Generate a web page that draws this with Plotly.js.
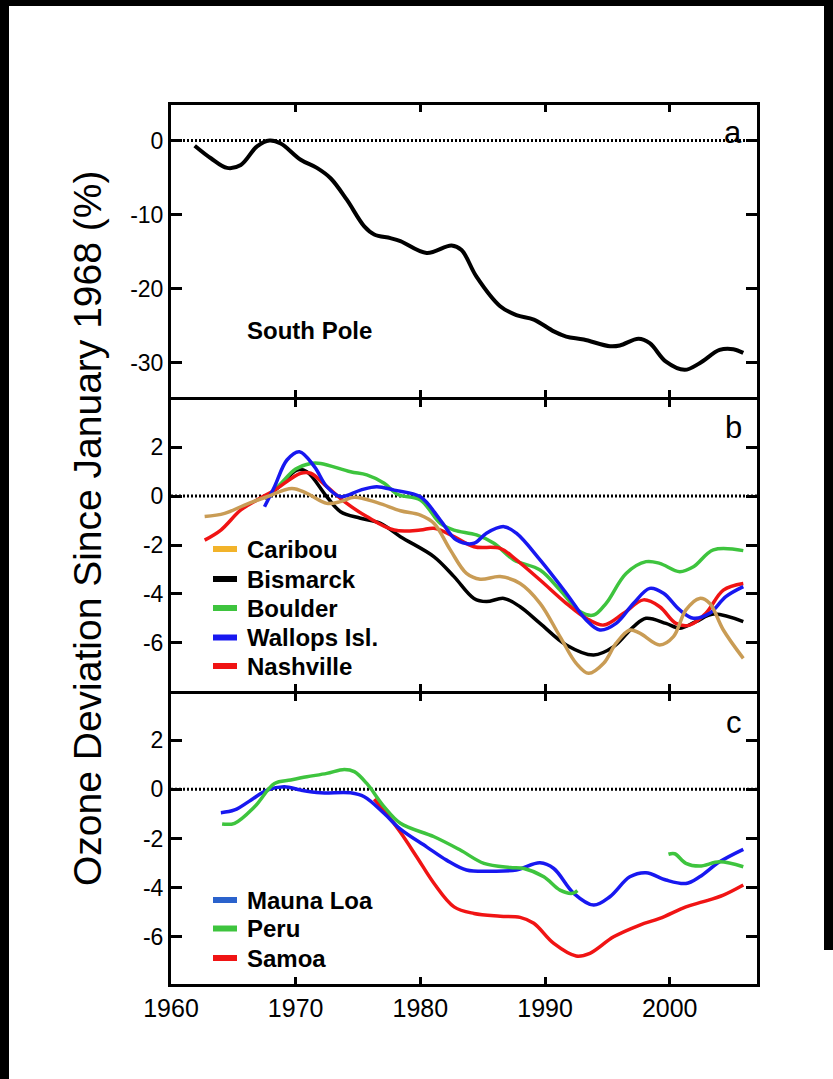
<!DOCTYPE html>
<html>
<head>
<meta charset="utf-8">
<script src="https://cdn.plot.ly/plotly-3.0.1.min.js"></script>
<style>
  html, body { margin: 0; padding: 0; background: #ffffff; }
  #wrap { position: relative; width: 833px; height: 1079px; overflow: hidden; }
  #chart { position: absolute; left: 0; top: 0; width: 833px; height: 1079px; }
  .edge { position: absolute; background: #000000; }
</style>
</head>
<body>
<div id="wrap">
  <div id="chart"></div>
  <div class="edge" style="left:0;top:0;width:833px;height:6px;"></div>
  <div class="edge" style="left:0;top:0;width:9px;height:1079px;"></div>
  <div class="edge" style="left:824px;top:0;width:9px;height:950px;"></div>
</div>
<script>
// ---- Panel a: South Pole ----
const spYears  = [1961.9, 1963.2, 1964.5, 1965.6, 1966.9, 1967.9, 1968.8, 1970.4, 1971.7, 1972.8,
                  1974.1, 1975.5, 1976.3, 1977.6, 1978.4, 1980.5, 1982.5, 1983.3, 1984.5, 1986.4,
                  1987.7, 1989.1, 1990.7, 1991.7, 1993.1, 1995.2, 1996.0, 1997.5, 1998.4, 1999.7,
                  2001.2, 2002.4, 2004.0, 2005.1, 2005.9];
const spValues = [-0.7, -2.4, -3.7, -3.3, -0.8, 0.0, -0.4, -2.6, -3.7, -5.1,
                  -8.0, -11.6, -12.7, -13.2, -13.6, -15.2, -14.2, -14.8, -18.4, -22.4,
                  -23.6, -24.2, -25.8, -26.5, -26.9, -27.8, -27.7, -26.8, -27.4, -29.9,
                  -31.0, -30.1, -28.3, -28.2, -28.7];

// ---- Panel b: northern mid-latitude stations ----
const caribouYears  = [1962.7, 1964.3, 1965.9, 1967.7, 1969.7, 1970.9, 1972.5, 1973.6, 1974.7, 1976.6,
                       1978.4, 1980.0, 1981.1, 1982.4, 1983.7, 1984.8, 1986.4, 1988.0, 1989.6, 1991.2,
                       1992.5, 1993.5, 1994.7, 1995.7, 1996.8, 1997.6, 1999.2, 2000.3, 2001.3, 2002.4,
                       2003.2, 2004.3, 2005.9];
const caribouValues = [-0.84, -0.71, -0.37, -0.03, 0.31, 0.11, -0.30, -0.23, -0.05, -0.28,
                       -0.60, -0.78, -1.12, -2.20, -3.16, -3.40, -3.29, -3.57, -4.38, -5.74,
                       -6.83, -7.24, -6.83, -6.01, -5.47, -5.60, -6.08, -5.74, -4.65, -4.18,
                       -4.38, -5.47, -6.63];

const bismarckYears  = [1967.5, 1968.6, 1970.1, 1970.9, 1972.5, 1973.6, 1975.2, 1976.8, 1978.4, 1981.1,
                        1982.7, 1984.3, 1985.3, 1986.7, 1988.0, 1989.6, 1991.7, 1993.9, 1995.5, 1997.1,
                        1998.1, 1999.7, 2000.8, 2002.1, 2003.5, 2005.9];
const bismarckValues = [-0.10, 0.35, 1.06, 0.99, -0.03, -0.64, -0.91, -1.12, -1.66, -2.48,
                        -3.29, -4.18, -4.31, -4.18, -4.52, -5.20, -6.08, -6.49, -6.15, -5.33,
                        -4.99, -5.20, -5.40, -5.13, -4.82, -5.13];

const boulderYears  = [1967.6, 1968.8, 1970.0, 1971.2, 1972.0, 1974.4, 1975.7, 1977.1, 1978.2, 1980.0,
                       1981.6, 1982.7, 1984.5, 1985.9, 1987.5, 1989.6, 1991.2, 1992.8, 1993.9, 1994.9,
                       1996.5, 1998.1, 1999.2, 2000.8, 2001.9, 2003.5, 2005.9];
const boulderValues = [-0.10, 0.50, 1.10, 1.33, 1.33, 0.99, 0.86, 0.52, 0.06, -0.16,
                       -1.12, -1.39, -1.59, -1.93, -2.61, -3.02, -3.84, -4.72, -4.86, -4.38,
                       -3.16, -2.68, -2.75, -3.09, -2.89, -2.20, -2.23];

const wallopsYears  = [1967.5, 1968.3, 1969.3, 1970.3, 1971.5, 1972.5, 1973.6, 1975.2, 1976.5, 1977.9,
                       1980.0, 1981.6, 1982.9, 1984.3, 1985.3, 1986.7, 1987.7, 1989.6, 1991.7, 1993.3,
                       1994.4, 1995.7, 1997.1, 1998.4, 1999.5, 2000.8, 2001.9, 2003.2, 2004.5, 2005.9];
const wallopsValues = [-0.44, 0.38, 1.47, 1.81, 1.20, 0.38, -0.03, 0.24, 0.38, 0.24,
                       -0.03, -0.98, -1.80, -1.93, -1.52, -1.25, -1.52, -2.61, -3.97, -5.06,
                       -5.47, -5.20, -4.38, -3.77, -3.97, -4.65, -4.99, -4.79, -4.11, -3.70];

const nashvilleYears  = [1962.7, 1964.0, 1965.6, 1966.9, 1968.3, 1970.4, 1971.2, 1972.5, 1974.1, 1975.7,
                         1977.9, 1980.0, 1981.1, 1982.7, 1984.3, 1986.4, 1987.7, 1989.6, 1991.7, 1993.3,
                         1994.7, 1996.3, 1997.9, 1999.2, 2000.5, 2001.6, 2002.9, 2004.3, 2005.9];
const nashvilleValues = [-1.80, -1.39, -0.57, -0.16, 0.24, 0.93, 0.93, 0.38, -0.30, -0.84,
                         -1.39, -1.39, -1.32, -1.66, -2.07, -2.14, -2.61, -3.43, -4.38, -4.99,
                         -5.27, -4.79, -4.24, -4.52, -5.20, -5.27, -4.79, -3.84, -3.57];

// ---- Panel c: tropical stations ----
const maunaLoaYears  = [1964.0, 1965.1, 1966.4, 1967.7, 1969.1, 1970.4, 1972.0, 1974.4, 1975.5, 1977.1,
                        1978.4, 1980.5, 1982.1, 1983.7, 1985.9, 1987.7, 1989.6, 1990.7, 1992.3, 1993.9,
                        1995.2, 1996.8, 1998.1, 1999.7, 2001.3, 2002.4, 2004.0, 2005.9];
const maunaLoaValues = [-0.95, -0.84, -0.44, -0.03, 0.11, -0.03, -0.14, -0.14, -0.30, -0.98,
                        -1.62, -2.34, -2.88, -3.28, -3.33, -3.28, -2.99, -3.22, -4.23, -4.71,
                        -4.37, -3.56, -3.39, -3.69, -3.83, -3.56, -2.95, -2.44];

// Peru has a data gap in the 1990s (null breaks the line)
const peruYears  = [1964.1, 1965.1, 1966.7, 1968.3, 1969.6, 1970.9, 1972.5, 1973.9, 1974.7, 1975.7,
                    1977.1, 1978.4, 1981.1, 1983.2, 1985.1, 1987.2, 1988.3, 1989.9, 1991.2, 1992.2,
                    1992.6, 1996.0,
                    1999.9, 2000.4, 2001.3, 2002.4, 2004.0, 2005.9];
const peruValues = [-1.41, -1.38, -0.71, 0.24, 0.38, 0.51, 0.65, 0.81, 0.72, 0.24,
                    -0.71, -1.38, -1.93, -2.47, -3.01, -3.18, -3.22, -3.56, -4.10, -4.23,
                    -4.12, null,
                    -2.64, -2.62, -3.01, -3.12, -2.95, -3.15];

const samoaYears  = [1976.3, 1977.3, 1978.4, 1979.7, 1981.1, 1982.7, 1984.3, 1986.4, 1988.0, 1989.1,
                     1990.7, 1992.5, 1993.6, 1995.5, 1997.6, 1999.2, 2001.3, 2002.7, 2004.3, 2005.9];
const samoaValues = [-0.40, -1.00, -1.75, -2.74, -3.83, -4.78, -5.05, -5.16, -5.21, -5.45,
                     -6.27, -6.78, -6.67, -6.00, -5.52, -5.25, -4.78, -4.57, -4.30, -3.89];

// ---- Axis ticks and labels ----
const xTickVals   = [1960, 1970, 1980, 1990, 2000];
const xTickText   = ['1960', '1970', '1980', '1990', '2000'];
const aTickVals   = [0, -10, -20, -30];
const aTickText   = ['0', '-10', '-20', '-30'];
const bcTickVals  = [2, 0, -2, -4, -6];
const bcTickText  = ['2', '0', '-2', '-4', '-6'];

const legendB = ['Caribou', 'Bismarck', 'Boulder', 'Wallops Isl.', 'Nashville'];
const legendC = ['Mauna Loa', 'Peru', 'Samoa'];

// ---- Colours ----
const C_BLACK = '#000000';
const C_TAN = '#c99c55';
const C_GOLD = '#f2b32a';
const C_GREEN = '#3ec43e';
const C_BLUE = '#1818f0';
const C_BLUE_KEY = '#2a62cc';
const C_RED = '#f01414';

const FONT = 'Liberation Sans, Arial, Helvetica, sans-serif';

// plot area in pixels
const PL = 171, PR = 757, PT = 105, PB = 984;
const px = p => (p - PL) / (PR - PL);
const py = p => (PB - p) / (PB - PT);

function curve(x, y, color, width, xa, ya) {
  return {
    type: 'scatter', mode: 'lines', x: x, y: y, xaxis: xa, yaxis: ya,
    line: { color: color, width: width, shape: 'spline', smoothing: 1.0 },
    connectgaps: false, hoverinfo: 'skip', showlegend: false
  };
}

const traces = [
  curve(spYears, spValues, C_BLACK, 4, 'x', 'y'),

  curve(bismarckYears, bismarckValues, C_BLACK, 3.5, 'x2', 'y2'),
  curve(boulderYears, boulderValues, C_GREEN, 3.5, 'x2', 'y2'),
  curve(nashvilleYears, nashvilleValues, C_RED, 3.5, 'x2', 'y2'),
  curve(wallopsYears, wallopsValues, C_BLUE, 3.5, 'x2', 'y2'),
  curve(caribouYears, caribouValues, C_TAN, 3.5, 'x2', 'y2'),

  curve(samoaYears, samoaValues, C_RED, 3.5, 'x3', 'y3'),
  curve(maunaLoaYears, maunaLoaValues, C_BLUE, 3.5, 'x3', 'y3'),
  curve(peruYears, peruValues, C_GREEN, 3.5, 'x3', 'y3')
];

const xBase = {
  range: [1960, 2007], showgrid: false, zeroline: false,
  showline: true, linewidth: 3, linecolor: C_BLACK, mirror: 'ticks',
  ticks: 'inside', ticklen: 7, tickwidth: 3, tickcolor: C_BLACK,
  tickvals: xTickVals, ticktext: xTickText,
  tickfont: { family: FONT, size: 25, color: C_BLACK },
  fixedrange: true
};
const yBase = {
  showgrid: false, zeroline: false,
  showline: true, linewidth: 3, linecolor: C_BLACK, mirror: 'ticks',
  ticks: 'inside', ticklen: 11, tickwidth: 3, tickcolor: C_BLACK,
  tickfont: { family: FONT, size: 23, color: C_BLACK },
  fixedrange: true
};

const shapes = [];
// dotted zero reference line in each panel
[['x', 'y'], ['x2', 'y2'], ['x3', 'y3']].forEach(([xa, ya]) => {
  shapes.push({ type: 'line', xref: xa, yref: ya, x0: 1960, x1: 2007, y0: 0, y1: 0,
    line: { color: C_BLACK, width: 3, dash: '2px,2px' }, layer: 'below' });
});

const annotations = [];
const keyX0 = px(213), keyX1 = px(237), keyTextX = px(245);
function addKey(label, color, yPix) {
  shapes.push({ type: 'line', xref: 'paper', yref: 'paper', x0: keyX0, x1: keyX1,
    y0: py(yPix), y1: py(yPix), line: { color: color, width: 6 } });
  annotations.push({ xref: 'paper', yref: 'paper', x: keyTextX, y: py(yPix),
    xanchor: 'left', yanchor: 'middle', showarrow: false, text: '<b>' + label + '</b>',
    font: { family: FONT, size: 24, color: C_BLACK } });
}
const keyColorsB = [C_GOLD, C_BLACK, C_GREEN, C_BLUE, C_RED];
const keyRowsB = [549, 579, 608, 637.5, 666];
legendB.forEach((t, i) => addKey(t, keyColorsB[i], keyRowsB[i]));
const keyColorsC = [C_BLUE_KEY, C_GREEN, C_RED];
const keyRowsC = [900, 928.5, 958];
legendC.forEach((t, i) => addKey(t, keyColorsC[i], keyRowsC[i]));

// panel letters
[['a', 133], ['b', 427], ['c', 722]].forEach(([t, yp]) => {
  annotations.push({ xref: 'paper', yref: 'paper', x: px(744), y: py(yp), xanchor: 'right',
    yanchor: 'middle', showarrow: false, text: t, font: { family: FONT, size: 31, color: C_BLACK } });
});

annotations.push({ xref: 'paper', yref: 'paper', x: px(309), y: py(330), xanchor: 'center',
  yanchor: 'middle', showarrow: false, text: '<b>South Pole</b>',
  font: { family: FONT, size: 24, color: C_BLACK } });

annotations.push({ xref: 'paper', yref: 'paper', x: px(87), y: py(529), xanchor: 'center',
  yanchor: 'middle', showarrow: false, textangle: -90,
  text: 'Ozone Deviation Since January 1968 (%)',
  font: { family: FONT, size: 39, color: C_BLACK } });

const layout = {
  width: 833, height: 1079,
  margin: { l: PL, r: 833 - PR, t: PT, b: 1079 - PB, pad: 0 },
  paper_bgcolor: '#ffffff', plot_bgcolor: '#ffffff',
  showlegend: false,
  xaxis:  Object.assign({}, xBase, { anchor: 'y',  showticklabels: false }),
  xaxis2: Object.assign({}, xBase, { anchor: 'y2', showticklabels: false, matches: 'x' }),
  xaxis3: Object.assign({}, xBase, { anchor: 'y3', showticklabels: true, matches: 'x' }),
  // adjacent panels leave a 3 px gap so their shared frame lines coincide
  yaxis:  Object.assign({}, yBase, { domain: [py(396.5), 1], range: [-34.6, 4.8],
                                     tickvals: aTickVals, ticktext: aTickText }),
  yaxis2: Object.assign({}, yBase, { domain: [py(690.5), py(399.5)], range: [-7.94, 3.94],
                                     tickvals: bcTickVals, ticktext: bcTickText }),
  yaxis3: Object.assign({}, yBase, { domain: [0, py(693.5)], range: [-7.92, 3.9],
                                     tickvals: bcTickVals, ticktext: bcTickText }),
  shapes: shapes,
  annotations: annotations
};

Plotly.newPlot('chart', traces, layout, { staticPlot: true, displayModeBar: false });
</script>
</body>
</html>
